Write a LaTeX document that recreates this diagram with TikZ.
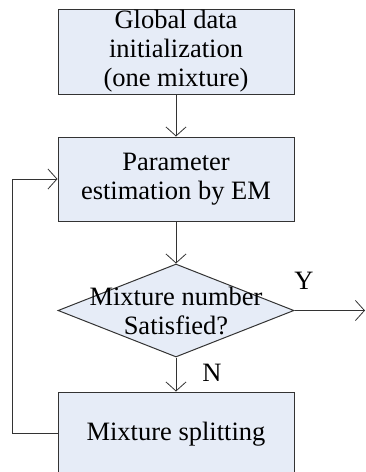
\documentclass[tikz,border=0pt]{standalone}
\usepackage{fontspec}
\setmainfont{Liberation Serif}
\usepackage{xcolor}
\usetikzlibrary{arrows.meta}
\usetikzlibrary{shapes.geometric}
\definecolor{boxfill}{HTML}{E6ECF7}
\definecolor{edge}{HTML}{333333}

\begin{document}
\begin{tikzpicture}[x=1pt,y=-1pt,
	box/.style={draw=edge,fill=boxfill,line width=1pt,minimum width=236pt,align=center,inner sep=0pt,font=\fontsize{26.5}{29}\selectfont},
	decision/.style={draw=edge,fill=boxfill,line width=1pt,diamond,minimum width=236pt,minimum height=93pt,inner sep=0pt},
	flow/.style={draw=edge,line width=0.8pt,-{Straight Barb[length=9pt,width=20pt]}},
	tag/.style={font=\fontsize{26.5}{29}\selectfont}]
	\useasboundingbox (0,0) rectangle (366,472);
	
	\node[box,minimum height=85pt] (init) at (176,51.5) {Global data\\initialization\\(one mixture)};
	\node[box,minimum height=84pt] (est) at (176,179) {Parameter\\estimation by EM};
	\node[decision] (check) at (176,310.5) {};
	\node[tag,align=center] (checktext) at (176,310.5) {Mixture number\\Satisfied?};
	\node[box,minimum height=84pt] (split) at (176,434) {Mixture splitting};
	
	\coordinate (out) at (365,310.5);
	\coordinate (back) at (12,433);
	
	\draw[flow] (init) -- (est);
	\draw[flow] (est) -- (check);
	\draw[flow] (check) -- (split);
	\draw[flow] (check.east) -- (out);
	\draw[flow] (split.west |- back) -- (back) |- (est.west);
	
	\node[tag] (yes) at (304,281) {Y};
	\node[tag] (no) at (212,373) {N};
\end{tikzpicture}
\end{document}
